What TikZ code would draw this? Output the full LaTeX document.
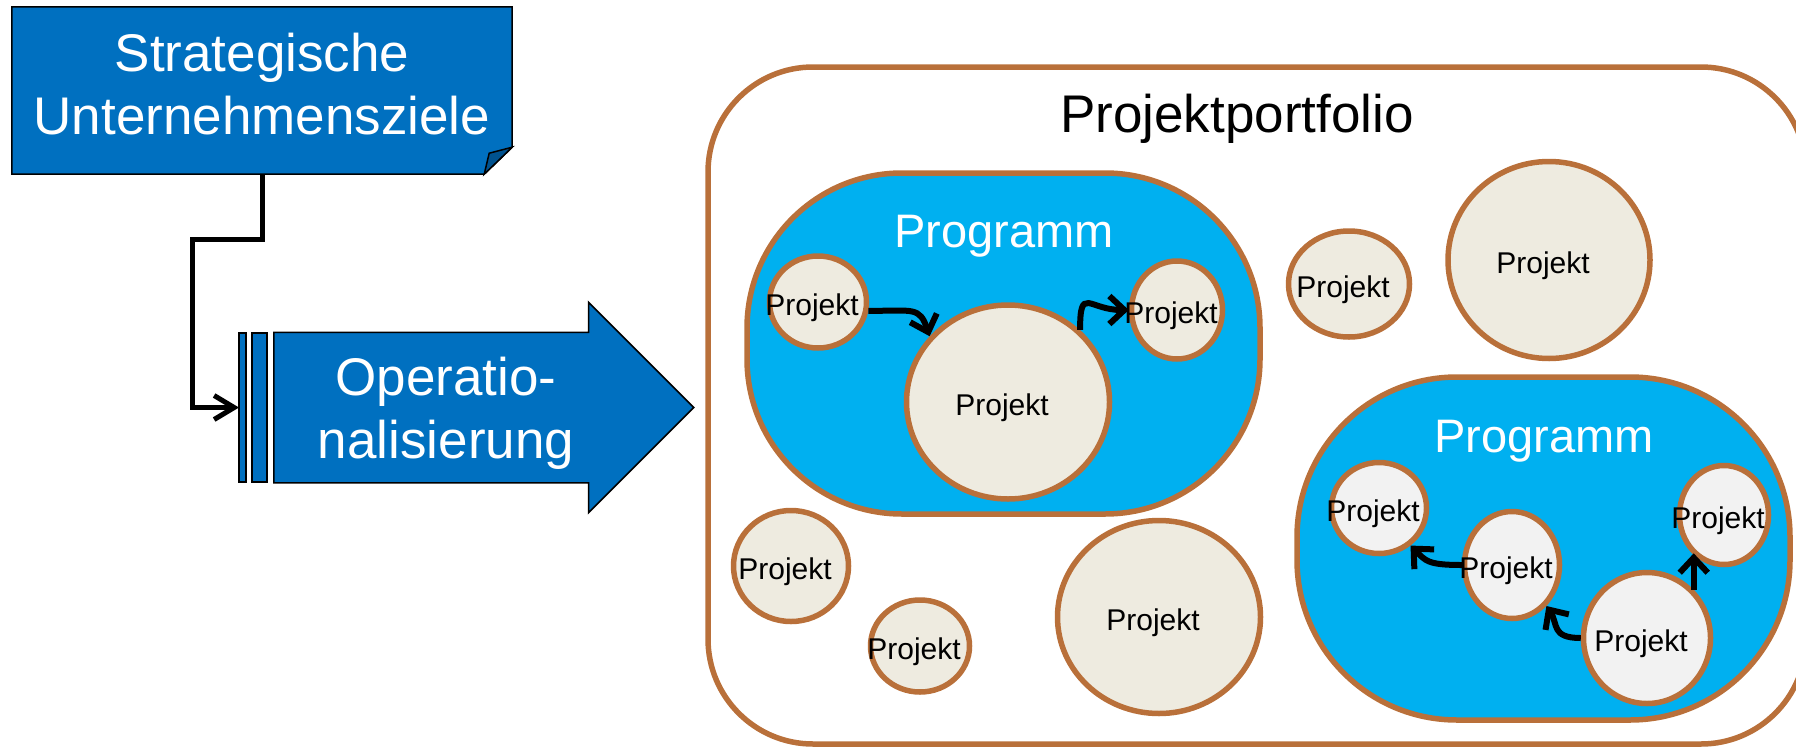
\documentclass[tikz,border=0pt]{standalone}
\usepackage{fontspec}
\setmainfont{Liberation Sans}
\usepackage{tikz}
\usetikzlibrary{positioning,shapes.geometric,shapes.arrows,arrows.meta,backgrounds}
\definecolor{officeblue}{HTML}{0070C0}
\definecolor{foldblue}{HTML}{00528F}
\definecolor{progcyan}{HTML}{00B0F0}
\definecolor{copper}{HTML}{B9703A}
\definecolor{beige}{HTML}{EEEBE0}
\definecolor{lightgrey}{HTML}{F2F2F2}
\newcommand{\bigtextfont}{\fontsize{53}{63}\selectfont}
\newcommand{\progtextfont}{\fontsize{47}{56}\selectfont}
\newcommand{\projtextfont}{\fontsize{30}{36}\selectfont}
\tikzstyle{zielbox}=[%
      rectangle, minimum width=500pt, minimum height=167pt, inner sep=0pt
]
\tikzstyle{bigtext}=[%
      text=white, align=center, font=\bigtextfont
]
\tikzstyle{oparrow}=[%
      single arrow, draw=black, line width=1.5pt, fill=officeblue,
      single arrow head extend=30pt, minimum height=420pt, inner xsep=0pt, inner ysep=74.5pt
]
\tikzstyle{bar}=[%
      rectangle, draw=black, line width=1.5pt, fill=officeblue,
      minimum height=149pt, inner sep=0pt, outer sep=0pt
]
\tikzstyle{portfolio}=[%
      rectangle, draw=copper, line width=5.5pt, rounded corners=105pt,
      minimum width=1098pt, minimum height=677pt
]
\tikzstyle{prog}=[%
      rectangle, draw=copper, fill=progcyan, line width=5.5pt
]
\tikzstyle{progtitle}=[%
      text=white, font=\progtextfont
]
\tikzstyle{proj}=[%
      ellipse, draw=copper, fill=beige, line width=5.5pt, inner sep=0pt,
      label={[font=\projtextfont, xshift=-6pt, yshift=-6pt]center:Projekt}
]
\tikzstyle{subproj}=[proj, fill=lightgrey]
\tikzstyle{conn}=[line width=5pt, -{Straight Barb[length=20pt,width=24pt]}]
\tikzstyle{flow}=[line width=6pt, ->]

\begin{document}
\begin{tikzpicture}[x=1pt, y=-1pt,
    >={Straight Barb[length=15pt,width=28pt]}
  ]
    \useasboundingbox (0,0) rectangle (1796,747);

    % Ziele und Operationalisierung
    \node[zielbox] (ziele) at (262,90.5) {};
    \begin{scope}[on background layer]
      \draw[fill=officeblue, line width=1.5pt] (ziele.north west) -- (ziele.north east)
        -- ([yshift=27pt]ziele.south east) -- ([xshift=-28pt]ziele.south east)
        -- (ziele.south west) -- cycle;
      \draw[fill=foldblue, line width=1.5pt] ([yshift=27pt]ziele.south east)
        -- ([xshift=-23pt,yshift=21pt]ziele.south east) -- ([xshift=-28pt]ziele.south east) -- cycle;
    \end{scope}
    \node[bigtext] (zieltext) at ([yshift=6pt]ziele.center) {Strategische\\Unternehmensziele};

    \node[oparrow, anchor=tail] (oper) at (273,407.5) {};
    \node[bigtext] (opertext) at (446,413.5) {Operatio-\\nalisierung};
    \node[bar, minimum width=15pt, left=6pt of oper.tail] (bar2) {};
    \node[bar, minimum width=7pt, left=6pt of bar2] (bar1) {};
    \coordinate (knick) at (192,239);
    \draw[conn] (ziele.south) |- (knick) |- (bar1.west);

    % Portfolio
    \node[portfolio] (portfolio) at (1257,405.5) {};
    \node[font=\bigtextfont] (portfoliotitle) at (1237,119) {Projektportfolio};

    \node[prog, rounded corners=155pt, minimum width=513pt, minimum height=341pt] (prog1) at (1003.5,343.5) {};
    \node[progtitle] (prog1title) at (1004,236) {Programm};
    \node[prog, rounded corners=160pt, minimum width=493pt, minimum height=343pt] (prog2) at (1543.5,548.5) {};
    \node[progtitle] (prog2title) at (1544,441) {Programm};

    \node[proj, minimum width=97pt, minimum height=92pt] (proj11) at (818,302) {};
    \node[proj, minimum width=203pt, minimum height=194pt] (proj12) at (1008,402) {};
    \node[proj, minimum width=91pt, minimum height=98pt] (proj13) at (1177,310) {};

    \node[proj, minimum width=121pt, minimum height=106pt] (projA) at (1349,284) {};
    \node[proj, minimum width=202pt, minimum height=197pt] (projB) at (1549,260) {};
    \node[proj, minimum width=115pt, minimum height=111pt] (projC) at (791,566) {};
    \node[proj, minimum width=99pt, minimum height=92pt] (projD) at (920,646) {};
    \node[proj, minimum width=203pt, minimum height=193pt] (projE) at (1159,617) {};

    \node[subproj, minimum width=95pt, minimum height=91pt] (proj21) at (1379,508) {};
    \node[subproj, minimum width=95pt, minimum height=107pt] (proj22) at (1512,565) {};
    \node[subproj, minimum width=89pt, minimum height=99pt] (proj23) at (1724,515) {};
    \node[subproj, minimum width=127pt, minimum height=131pt] (proj24) at (1647,638) {};

    % Abhaengigkeiten
    \draw[flow] (proj11.-10) .. controls +(45,0) and +(-10,-30) .. (proj12.140);
    \draw[flow] (proj12.45) .. controls +(0,-45) and +(-40,0) .. (proj13.west);
    \draw[flow] (proj22.west) .. controls +(-35,0) and +(15,15) .. (proj21.-50);
    \draw[flow] (proj24.west) .. controls +(-30,0) and +(12,18) .. (proj22.-50);
    \draw[flow] (proj24.46) -- (proj24.46 |- proj23.-130);
  \end{tikzpicture}
\end{document}
